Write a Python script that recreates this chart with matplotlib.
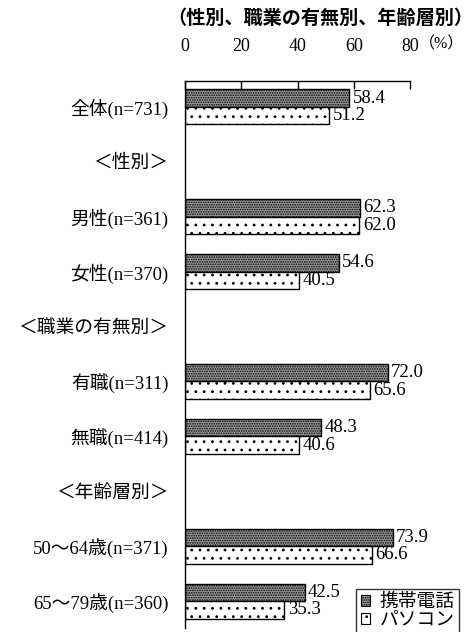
import matplotlib
matplotlib.use("Agg")
import matplotlib.pyplot as plt
from matplotlib.patches import Patch
import numpy as np

plt.rcParams['hatch.linewidth'] = 0.8

labels = ["全体(n=731)", "＜性別＞", "男性(n=361)", "女性(n=370)", "＜職業の有無別＞",
          "有職(n=311)", "無職(n=414)", "＜年齢層別＞", "50～64歳(n=371)", "65～79歳(n=360)"]
mobile = [58.4, None, 62.3, 54.6, None, 72.0, 48.3, None, 73.9, 42.5]
pc = [51.2, None, 62.0, 40.5, None, 65.6, 40.6, None, 66.6, 35.3]
series_names = ["携帯電話", "パソコン"]
xticks = [0, 20, 40, 60, 80]

FONT = ['Liberation Serif', 'Noto Sans CJK JP']
W, H = 475, 632

fig = plt.figure(figsize=(W/100, H/100), dpi=100)
ax = fig.add_axes([185/W, 1-628/H, (410-185)/W, (628-81)/H])

h = 0.32
y = np.arange(len(labels))
for i in range(len(labels)):
    if mobile[i] is not None:
        ax.barh(i - h/2, mobile[i], height=h, facecolor='#999999', edgecolor='black',
                hatch='.......', linewidth=1.0)
        ax.text(mobile[i] + 1.2, i - h/2, f"{mobile[i]:.1f}", va='center', ha='left',
                fontsize=13.5, family=FONT)
    if pc[i] is not None:
        ax.barh(i + h/2, pc[i], height=h, facecolor='white', edgecolor='black',
                hatch='..', linewidth=1.0)
        ax.text(pc[i] + 1.2, i + h/2, f"{pc[i]:.1f}", va='center', ha='left',
                fontsize=13.5, family=FONT)

ax.set_xlim(0, 80)
ax.set_ylim(9.49, -0.47)
ax.set_yticks(y)
ax.set_yticklabels(labels, family=FONT, fontsize=13.5)
ax.tick_params(axis='y', length=0, pad=12)
ax.xaxis.tick_top()
ax.set_xticks(xticks)
ax.set_xticklabels([str(v) for v in xticks], family=FONT, fontsize=13)
ax.tick_params(axis='x', direction='in', length=6, pad=19, width=1)
for s in ['right', 'bottom']:
    ax.spines[s].set_visible(False)
ax.spines['top'].set_linewidth(1.0)
ax.spines['left'].set_linewidth(1.0)

fig.text(419/W, 1-44/H, "（%）", family=FONT, fontsize=11.5, ha='left', va='center')
fig.text(167/W, 1-18/H, "（性別、職業の有無別、年齢層別）", family=['Noto Sans CJK JP'],
         fontsize=13.8, fontweight='bold', ha='left', va='center')

handles = [Patch(facecolor='#999999', edgecolor='black', hatch='.......', linewidth=0.8),
           Patch(facecolor='white', edgecolor='black', hatch='..', linewidth=0.8)]
leg = fig.legend(handles, series_names, loc='upper left',
                 bbox_to_anchor=(356/W, 1-589/H), prop={'family': FONT, 'size': 13.5},
                 frameon=True, fancybox=False, edgecolor='black', handlelength=0.5,
                 handleheight=0.5, handletextpad=0.5, borderpad=0.25, labelspacing=0.05,
                 borderaxespad=0)
leg.get_frame().set_linewidth(1.0)

fig.savefig("out.png", dpi=100)
